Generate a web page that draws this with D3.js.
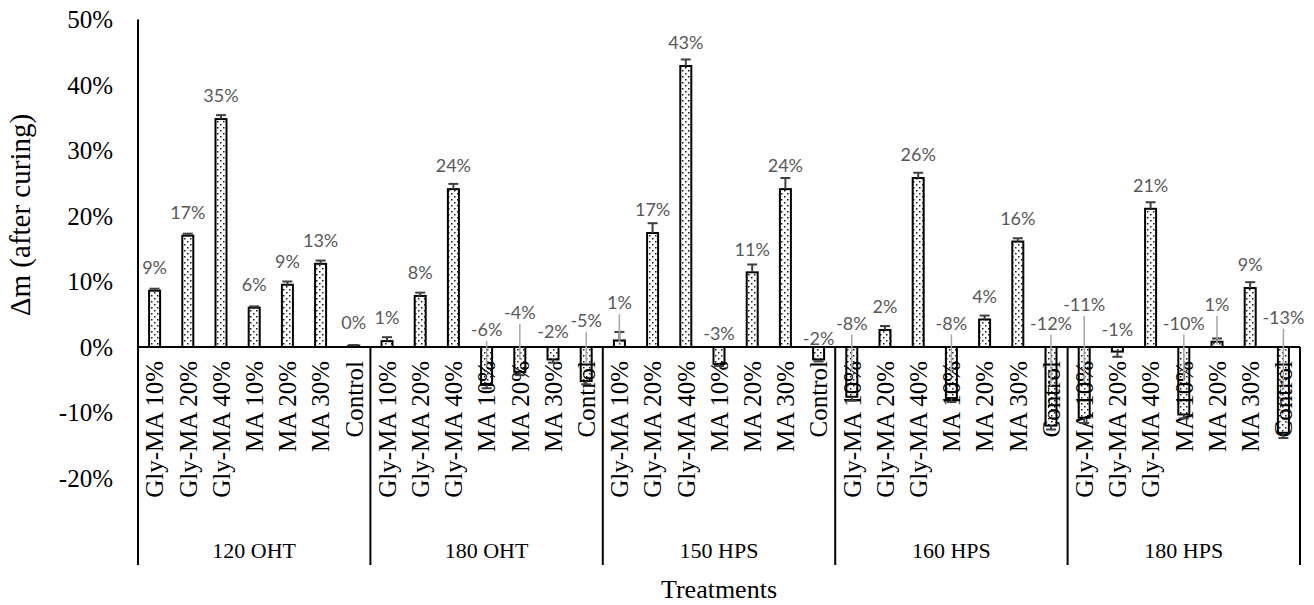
<!DOCTYPE html>
<html><head><meta charset="utf-8">
<script src="https://cdn.jsdelivr.net/npm/d3@7"></script>
<style>body{margin:0;background:#fff}</style>
</head><body>
<svg id="c" width="1314" height="605"></svg>
<script>
const groups = ["120 OHT","180 OHT","150 HPS","160 HPS","180 HPS"];
const treatments = ["Gly-MA 10%","Gly-MA 20%","Gly-MA 40%","MA 10%","MA 20%","MA 30%","Control"];
const values = [
  [8.6, 17.0, 34.8, 6.0, 9.5, 12.7, 0.2],
  [0.9, 7.8, 24.1, -5.8, -3.8, -1.9, -5.2],
  [1.0, 17.4, 42.9, -2.6, 11.4, 24.1, -1.9],
  [-7.6, 2.6, 25.8, -7.8, 4.2, 16.1, -12.0],
  [-10.8, -0.7, 21.1, -10.3, 0.8, 9.0, -13.1]
];
const errors = [
  [0.3, 0.3, 0.6, 0.2, 0.5, 0.5, 0.1],
  [0.6, 0.5, 0.8, 0.5, 0.5, 0.5, 0.5],
  [1.3, 1.5, 1.0, 0.3, 1.2, 1.7, 0.3],
  [0.6, 0.6, 0.8, 0.6, 0.6, 0.5, 0.6],
  [0.8, 0.8, 1.0, 0.6, 0.5, 0.9, 0.8]
];
const labels = [
  ["9%","17%","35%","6%","9%","13%","0%"],
  ["1%","8%","24%","-6%","-4%","-2%","-5%"],
  ["1%","17%","43%","-3%","11%","24%","-2%"],
  ["-8%","2%","26%","-8%","4%","16%","-12%"],
  ["-11%","-1%","21%","-10%","1%","9%","-13%"]
];
// data-label centre (in % units) for labels moved by hand; null = default above bar
const labelAt = [
  [null,null,null,null,null,null,null],
  [null,null,null,2.6,5.2,2.3,4.0],
  [6.7,null,null,2.1,null,null,1.3],
  [3.6,null,null,3.6,null,null,3.6],
  [6.4,2.7,null,3.6,6.4,null,4.5]
];
const leader = [
  [0,0,0,0,0,0,0],
  [0,0,0,1,1,0,1],
  [1,0,0,0,0,0,0],
  [1,0,0,1,0,0,1],
  [1,0,0,1,1,0,1]
];
const yTicks = [-20,-10,0,10,20,30,40,50];

const svg = d3.select("#c");
const L = 138, R = 1300;
const y = d3.scaleLinear().domain([-20,50]).range([478,19.5]);
const ids = [];
groups.forEach((g,gi)=>treatments.forEach((t,ti)=>ids.push({g,gi,t,ti,
  v:values[gi][ti], e:errors[gi][ti], lab:labels[gi][ti], la:labelAt[gi][ti], ld:leader[gi][ti], key:gi+"_"+ti})));
const x = d3.scaleBand().domain(ids.map(d=>d.key)).range([L,R]).padding(0);
const gx = d3.scaleBand().domain(groups).range([L,R]).padding(0);
const bw = 11;
const cx = d=>x(d.key)+x.bandwidth()/2;

const defs = svg.append("defs");
const pat = defs.append("pattern").attr("id","dots").attr("patternUnits","userSpaceOnUse")
  .attr("width",6).attr("height",6);
pat.append("rect").attr("width",6).attr("height",6).attr("fill","#fff");
pat.append("rect").attr("x",1).attr("y",1).attr("width",1.5).attr("height",1.5).attr("fill","#1a1a1a");
pat.append("rect").attr("x",4).attr("y",4).attr("width",1.5).attr("height",1.5).attr("fill","#1a1a1a");

// bars
svg.append("g").selectAll("rect").data(ids).join("rect")
  .attr("x",d=>cx(d)-bw/2).attr("width",bw)
  .attr("y",d=>y(Math.max(0,d.v))).attr("height",d=>Math.abs(y(d.v)-y(0)))
  .attr("fill","url(#dots)").attr("stroke","#000").attr("stroke-width",2);

// category labels
const serif = "'Liberation Serif','Times New Roman',serif";
svg.append("g").selectAll("text").data(ids).join("text")
  .attr("transform",d=>`translate(${cx(d)},361) rotate(-90)`)
  .attr("text-anchor","end").attr("dy","0.35em")
  .attr("font-family",serif).attr("font-size",25).attr("fill","#000")
  .text(d=>d.t);

// axes lines
const zero = y(0);
svg.append("line").attr("x1",L).attr("x2",R).attr("y1",zero).attr("y2",zero).attr("stroke","#000").attr("stroke-width",2);
svg.append("line").attr("x1",L).attr("x2",L).attr("y1",y(50)).attr("y2",565).attr("stroke","#000").attr("stroke-width",2);
svg.append("g").selectAll("line").data(groups).join("line")
  .attr("x1",d=>gx(d)+gx.bandwidth()).attr("x2",d=>gx(d)+gx.bandwidth())
  .attr("y1",zero).attr("y2",565).attr("stroke","#000").attr("stroke-width",2);

// group labels
svg.append("g").selectAll("text").data(groups).join("text")
  .attr("x",d=>gx(d)+gx.bandwidth()/2).attr("y",550).attr("dy","0.35em")
  .attr("text-anchor","middle").attr("font-family",serif).attr("font-size",22).text(d=>d);

// y tick labels
svg.append("g").selectAll("text").data(yTicks).join("text")
  .attr("x",113).attr("y",d=>y(d)).attr("dy","0.35em").attr("text-anchor","end")
  .attr("font-family",serif).attr("font-size",25).text(d=>d+"%");

// error bars
const eb = svg.append("g").attr("stroke","#404040").attr("stroke-width",2);
ids.forEach(d=>{
  const a = y(d.v), b = y(d.v + (d.v>=0?d.e:-d.e));
  eb.append("line").attr("x1",cx(d)).attr("x2",cx(d)).attr("y1",a).attr("y2",b);
  eb.append("line").attr("x1",cx(d)-5).attr("x2",cx(d)+5).attr("y1",b).attr("y2",b);
});

// leader lines
svg.append("g").selectAll("line").data(ids.filter(d=>d.la!==null && d.ld)).join("line")
  .attr("x1",cx).attr("x2",cx)
  .attr("y1",d=>y(d.la)+11).attr("y2",d=>y(d.v/2))
  .attr("stroke","#a6a6a6").attr("stroke-width",1.5);

// data labels
svg.append("g").selectAll("text").data(ids).join("text")
  .attr("x",cx)
  .attr("y",d=>d.la!==null ? y(d.la) : y(Math.max(0,d.v))-23)
  .attr("dy","0.35em").attr("text-anchor","middle")
  .attr("font-family","Lato,'Open Sans',sans-serif").attr("font-size",18).attr("fill","#595959")
  .text(d=>d.lab);

// axis titles
svg.append("text").attr("transform","translate(20,215) rotate(-90)").attr("text-anchor","middle")
  .attr("dy","0.35em").attr("font-family",serif).attr("font-size",29).text("Δm (after curing)");
svg.append("text").attr("x",(L+R)/2).attr("y",589).attr("dy","0.35em").attr("text-anchor","middle")
  .attr("font-family",serif).attr("font-size",26).text("Treatments");
</script>
</body></html>
